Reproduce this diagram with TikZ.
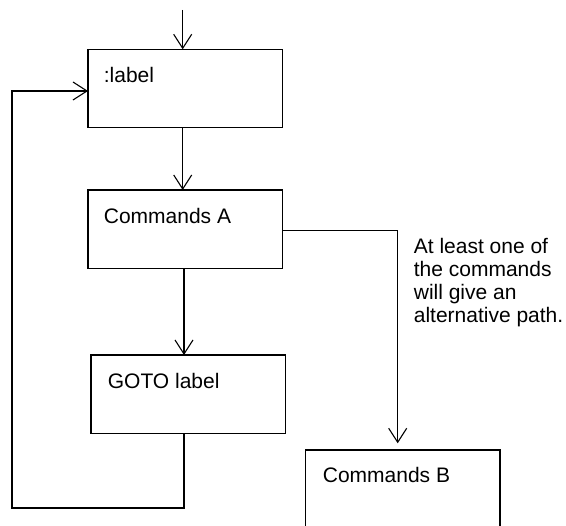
\documentclass[tikz,border=0pt]{standalone}
\usepackage{fontspec}
\setmainfont{Liberation Sans}
\usetikzlibrary{arrows.meta}
\begin{document}
\begin{tikzpicture}[x=1pt,y=-1pt,
  line width=1.1pt,
  box/.style={draw, rectangle, inner sep=0pt, outer sep=0pt, anchor=north west},
  txt/.style={inner sep=0pt, anchor=base west, font=\fontsize{21}{22.8}\selectfont},
  flow/.style={-{Straight Barb[length=14pt,width=18pt]}},
]
\useasboundingbox (0,0) rectangle (566,526);
\clip (0,0) rectangle (566,526);

% boxes
\node[box, minimum width=194.3pt, minimum height=78pt]   (lbl)  at (88,49.3)  {};
\node[box, minimum width=194.3pt, minimum height=78.3pt] (cmdA) at (88,190)   {};
\node[box, minimum width=194.7pt, minimum height=78.3pt] (goto) at (91,355)   {};
\node[box, minimum width=194.3pt, minimum height=78.3pt] (cmdB) at (305.7,450) {};

% box texts
\node[txt] (tlbl)  at (103.3,83)    {:label};
\node[txt] (tcmdA) at (103.3,223.3) {Commands A};
\node[txt] (tgoto) at (107.3,388.7) {GOTO label};
\node[txt] (tcmdB) at (322.3,482.7) {Commands B};
\node[txt] (note)  at (413.3,254)
  {\begin{tabular}[t]{@{}l@{}}At least one of\\the commands\\will give an\\alternative path.\end{tabular}};

% helper coordinates for the connector routes
\coordinate (entry)  at (182.7,10);
\coordinate (spine)  at (184,300);
\coordinate (branch) at (397.7,230.3);
\coordinate (loopcorner) at (12,508);
\coordinate (loopin) at (12,91);

% connectors
\draw[flow] (entry) -- (entry |- lbl.north);
\draw[flow] (lbl.south -| entry) -- (cmdA.north -| entry);
\draw[flow] (cmdA.south -| spine) -- (goto.north -| spine);
\draw[flow, shorten >=6.7pt] (cmdA.east |- branch) -| (cmdB.north -| branch);
\draw[flow] (goto.south -| spine) |- (loopcorner) |- (lbl.west |- loopin);
\end{tikzpicture}
\end{document}
